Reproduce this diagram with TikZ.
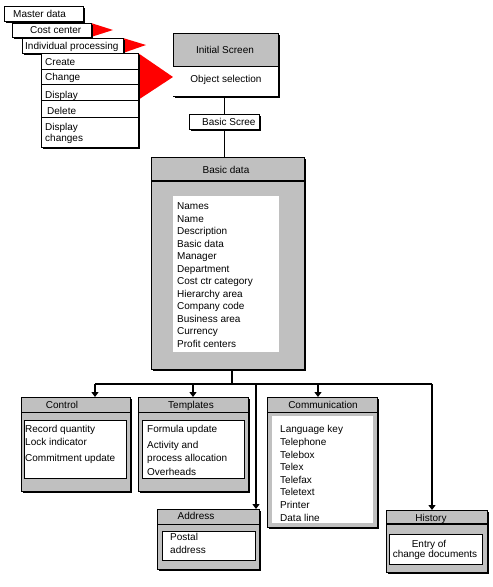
\documentclass[tikz,border=0pt]{standalone}
\usepackage{fontspec}
\setmainfont{Liberation Sans}
\usetikzlibrary{arrows.meta,shadows}
\definecolor{panelgray}{HTML}{C0C0C0}
\tikzset{
    frame/.style={draw, line width=0.8pt, anchor=north west, inner sep=0pt,
        drop shadow={shadow xshift=1.4pt, shadow yshift=-1.4pt, fill=black, opacity=1}},
    panel/.style={frame, fill=panelgray},
    tab/.style={frame, fill=white},
    inset/.style={draw, line width=0.7pt, fill=white, anchor=north west, inner sep=0pt},
    blank/.style={fill=white, anchor=north west, inner sep=0pt},
    label/.style={anchor=west, inner sep=0pt, text height=7pt, text depth=0pt,
        font=\fontsize{10}{12}\selectfont},
    title/.style={label, anchor=center},
    items/.style={anchor=north west, inner sep=0pt, align=left},
    flag/.style={fill=red, draw=none},
    link/.style={line width=1.6pt},
    feed/.style={link, -{Triangle[width=7pt,length=5pt]}}
}
\begin{document}
\begin{tikzpicture}[x=1pt, y=-1pt]
    \useasboundingbox[fill=white] (0,0) rectangle (493,587);
    % Menu path
    \node[tab, minimum width=79pt, minimum height=15pt] (master) at (4,6) {};
    \node[label] (masterl) at (13,14) {Master data};
    \fill[flag] (91,23) -- (113,30) -- (91,37) -- cycle;
    \node[tab, minimum width=79pt, minimum height=14pt] (cost) at (12,23) {};
    \node[label] (costl) at (30,30) {Cost center};
    \fill[flag] (123,38) -- (146,45) -- (123,53) -- cycle;
    \node[tab, minimum width=101pt, minimum height=15pt] (indiv) at (22,38) {};
    \node[label] (indivl) at (25,46) {Individual processing};
    \fill[flag] (138,53) -- (173,77) -- (138,100) -- cycle;
    \node[tab, minimum width=97pt, minimum height=94pt] (menu) at (41,53) {};
    \draw[line width=0.8pt] (41,69) -- (138,69) (41,84) -- (138,84)
        (41,100) -- (138,100) (41,117) -- (138,117);
    \node[label] (create) at (45,62) {Create};
    \node[label] (change) at (45,77) {Change};
    \node[label] (display) at (45,95) {Display};
    \node[label] (delete) at (47,111) {Delete};
    \node[items, font=\fontsize{10}{11}\selectfont] (dispch) at (45,123) {Display\\changes};
    % Initial screen
    \node[panel, minimum width=105pt, minimum height=63pt] (init) at (173,33) {};
    \fill[white] (173.4,66) rectangle (277.6,95.6);
    \draw[line width=0.8pt] (173,66) -- (278,66);
    \node[title] (initl) at (225,50) {Initial Screen};
    \node[title] (objsel) at (226,79) {Object selection};
    % Basic data
    \node[panel, minimum width=153pt, minimum height=212pt] (basic) at (151,157) {};
    \draw[line width=1.2pt] (151,181) -- (304,181);
    \node[title] (basicl) at (226,170) {Basic data};
    \node[blank, minimum width=106pt, minimum height=156pt] (basicin) at (173,196) {};
    \node[items, font=\fontsize{10}{12.5}\selectfont] (basicitems) at (177,202.5)
        {Names\\Name\\Description\\Basic data\\Manager\\Department\\Cost ctr category\\
         Hierarchy area\\Company code\\Business area\\Currency\\Profit centers};
    \node[tab, minimum width=70pt, minimum height=15pt] (bscreen) at (189,114) {};
    \draw[link] (init.south -| bscreen) -- (bscreen.north);
    \draw[link] (bscreen.south) -- (basic.north -| bscreen);
    \node[label] (bscreenl) at (202,122) {Basic Scree};
    % Control
    \node[panel, minimum width=109pt, minimum height=94pt] (ctrl) at (21,397) {};
    \draw[line width=0.8pt] (21,412) -- (130,412);
    \node[title] (ctrll) at (62,405) {Control};
    \node[inset, minimum width=102pt, minimum height=58pt] (ctrlin) at (24,420) {};
    \node[items, font=\fontsize{10}{13}\selectfont] (ctrlitems) at (25,425.5)
        {Record quantity\\Lock indicator\\[3pt]Commitment update};
    % Templates
    \node[panel, minimum width=110pt, minimum height=94pt] (tmpl) at (138,397) {};
    \draw[line width=0.8pt] (138,412) -- (248,412);
    \node[title] (tmpll) at (191,405) {Templates};
    \node[inset, minimum width=102pt, minimum height=58pt] (tmplin) at (142,420) {};
    \node[items, font=\fontsize{10}{13}\selectfont] (tmplitems) at (147,425.5)
        {Formula update\\[3pt]Activity and\\process allocation\\[1pt]Overheads};
    % Communication
    \node[panel, minimum width=110pt, minimum height=130pt] (comm) at (267,397) {};
    \draw[line width=0.8pt] (267,412) -- (377,412);
    \node[title] (comml) at (323,405) {Communication};
    \node[blank, minimum width=101pt, minimum height=107pt] (commin) at (272,416) {};
    \node[items, font=\fontsize{10}{12.6}\selectfont] (commitems) at (280,425.5)
        {Language key\\Telephone\\Telebox\\Telex\\Telefax\\Teletext\\Printer\\Data line};
    % Address
    \node[panel, minimum width=102pt, minimum height=60pt] (addr) at (157,509) {};
    \draw[line width=0.8pt] (157,524) -- (259,524);
    \node[title] (addrl) at (196,516) {Address};
    \node[inset, minimum width=93pt, minimum height=29pt] (addrin) at (162,531) {};
    \node[items, font=\fontsize{10}{13}\selectfont] (addritems) at (170,533.5)
        {Postal\\address};
    % History
    \node[panel, minimum width=101pt, minimum height=62pt] (hist) at (386,510) {};
    \draw[line width=1.2pt] (386,524) -- (487,524);
    \node[title] (histl) at (431,518) {History};
    \node[inset, minimum width=93pt, minimum height=30pt] (histin) at (389,534) {};
    \node[items, align=center, anchor=north, font=\fontsize{10}{10}\selectfont] (histitems)
        at (435,540.5) {\hspace*{-12pt}Entry of\\change documents};
    % Distribution lines
    \coordinate (hub) at (232,384);
    \coordinate (toctrl) at (95,384);
    \coordinate (totmpl) at (193,384);
    \coordinate (toaddr) at (256,384);
    \coordinate (tocomm) at (318,384);
    \coordinate (tohist) at (432,384);
    \draw[link] (basic.south -| hub) -- (hub);
    \draw[link] (toctrl) -- (tohist);
    \draw[feed] (toctrl) -- (toctrl |- ctrl.north);
    \draw[feed] (totmpl) -- (totmpl |- tmpl.north);
    \draw[feed] (toaddr) -- (toaddr |- addr.north);
    \draw[feed] (tocomm) -- (tocomm |- comm.north);
    \draw[feed] (tohist) -- (tohist |- hist.north);
\end{tikzpicture}
\end{document}
